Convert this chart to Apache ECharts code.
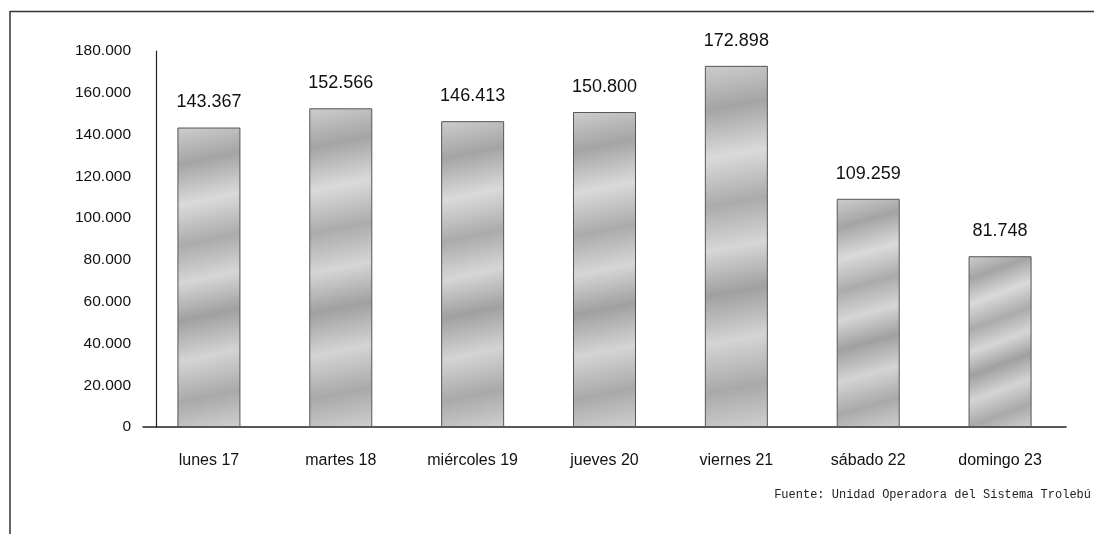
<!DOCTYPE html>
<html>
<head>
<meta charset="utf-8">
<script src="https://cdn.jsdelivr.net/npm/echarts@6/dist/echarts.min.js"></script>
<style>
html,body{margin:0;padding:0;background:#fff;}
#chart{width:1094px;height:534px;}
</style>
</head>
<body>
<div id="chart"></div>
<script>
const categories = ['lunes 17', 'martes 18', 'miércoles 19', 'jueves 20', 'viernes 21', 'sábado 22', 'domingo 23'];
const values = [143367, 152566, 146413, 150800, 172898, 109259, 81748];
const yTicks = [0, 20000, 40000, 60000, 80000, 100000, 120000, 140000, 160000, 180000];
const sourceText = 'Fuente: Unidad Operadora del Sistema Trolebú';

function fmt(v) {
  return String(v).replace(/\B(?=(\d{3})+(?!\d))/g, '.');
}

const chart = echarts.init(document.getElementById('chart'), null, {renderer: 'canvas'});
const barFill = new echarts.graphic.LinearGradient(0, 0, 1, 1, [
  {offset: 0, color: '#cdcdcd'},
  {offset: 0.12, color: '#a4a4a4'},
  {offset: 0.25, color: '#dadada'},
  {offset: 0.38, color: '#ababab'},
  {offset: 0.5, color: '#d6d6d6'},
  {offset: 0.62, color: '#a0a0a0'},
  {offset: 0.75, color: '#d4d4d4'},
  {offset: 0.88, color: '#a9a9a9'},
  {offset: 1, color: '#cfcfcf'}
]);

chart.setOption({
  animation: false,
  backgroundColor: '#ffffff',
  grid: {left: 143, top: 51, width: 923, height: 376, containLabel: false},
  xAxis: {
    type: 'category',
    data: categories,
    axisLine: {show: true, lineStyle: {color: '#222', width: 1.5}},
    axisTick: {show: false},
    axisLabel: {color: '#111', fontFamily: 'Liberation Sans, Arial, sans-serif', fontSize: 16, margin: 26}
  },
  yAxis: {
    type: 'value',
    min: yTicks[0],
    max: yTicks[yTicks.length - 1],
    interval: yTicks[1] - yTicks[0],
    offset: -13,
    axisLine: {show: true, lineStyle: {color: '#222', width: 1.2}},
    axisTick: {show: false},
    splitLine: {show: false},
    axisLabel: {color: '#111', fontFamily: 'Liberation Sans, Arial, sans-serif', fontSize: 15.5, margin: 25, formatter: v => fmt(v)}
  },
  series: [{
    type: 'bar',
    data: values,
    barWidth: 63,
    itemStyle: {color: barFill, borderColor: '#555', borderWidth: 1},
    label: {
      show: true,
      position: 'top',
      distance: 16,
      color: '#111',
      fontFamily: 'Liberation Sans, Arial, sans-serif',
      fontSize: 18,
      formatter: p => fmt(p.value)
    }
  }],
  graphic: [
    {type: 'line', shape: {x1: 10, y1: 11.5, x2: 1094, y2: 11.5}, style: {stroke: '#333', lineWidth: 1.5}},
    {type: 'line', shape: {x1: 10, y1: 11, x2: 10, y2: 534}, style: {stroke: '#333', lineWidth: 1.5}},
    {type: 'text', right: 3, top: 489, style: {text: sourceText, font: '12px "Liberation Mono", "Courier New", monospace', fill: '#222'}}
  ]
});
</script>
</body>
</html>
